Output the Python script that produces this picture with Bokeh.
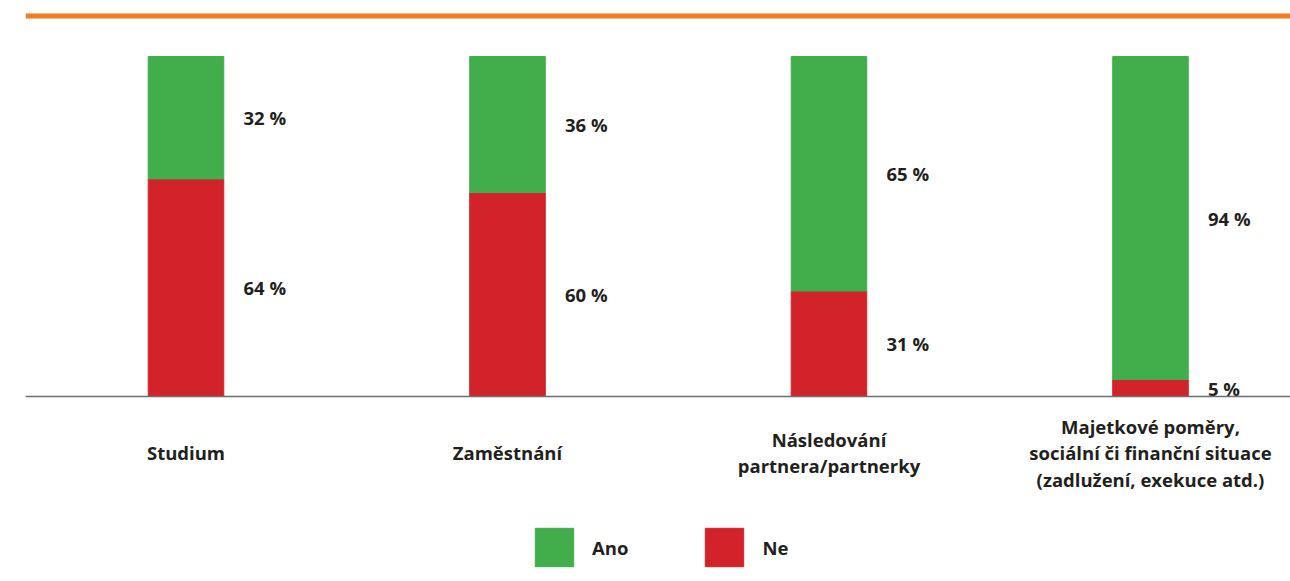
from bokeh.plotting import figure
from bokeh.models import Range1d, Span, Legend, LegendItem, ColumnDataSource
from bokeh.core.properties import value
from bokeh.embed import file_html
from bokeh.resources import INLINE

categories = ["Studium", "Zaměstnání", "Následování\npartnera/partnerky",
              "Majetkové poměry,\nsociální či finanční situace\n(zadlužení, exekuce atd.)"]
ano = [32, 36, 65, 94]
ne = [64, 60, 31, 5]
ano_labels = ["32 %", "36 %", "65 %", "94 %"]
ne_labels = ["64 %", "60 %", "31 %", "5 %"]

GREEN = "#41ae4b"
RED = "#d2232a"
ORANGE = "#f47b20"
TEXT = "#231f20"
FONT = "Open Sans"
FS = "18.5px"

xs = list(range(len(categories)))
src = ColumnDataSource(dict(
    x=xs, ne=ne, ano=ano, top=[100] * len(xs),
    ne_mid=[n / 2 for n in ne], ano_mid=[(n + 100) / 2 for n in ne],
    ano_lab=ano_labels, ne_lab=ne_labels, cat=categories,
    cat_y=[-16.5] * len(xs),
))

p = figure(width=1290, height=581, output_backend="svg", toolbar_location=None,
           x_range=Range1d(-0.4992, 3.4355), y_range=Range1d(-54.41, 116.47),
           min_border_left=25, min_border_right=0, min_border_top=0, min_border_bottom=0)
p.axis.visible = False
p.grid.visible = False
p.outline_line_color = None
p.background_fill_color = None
p.border_fill_color = "white"

bw = 0.235
r_ne = p.vbar(x="x", bottom=0, top="ne", width=bw, color=RED, source=src)
r_ano = p.vbar(x="x", bottom="ne", top="top", width=bw, color=GREEN, source=src)

p.add_layout(Span(location=0, dimension="width", line_color="#6d6e71", line_width=1.5))
p.add_layout(Span(location=111.9, dimension="width", line_color=ORANGE, line_width=5))

common = dict(text_font=value(FONT), text_font_style="bold", text_font_size=FS,
              text_color=TEXT, source=src)
p.text(x="x", y="ano_mid", text="ano_lab", x_offset=57.5, text_baseline="middle",
       text_align="left", **common)
p.text(x="x", y="ne_mid", text="ne_lab", x_offset=57.5, text_baseline="middle",
       text_align="left", **common)
p.text(x="x", y="cat_y", text="cat", text_baseline="middle", text_align="center",
       text_line_height=1.06, **common)

legend = Legend(items=[LegendItem(label="Ano", renderers=[r_ano]),
                       LegendItem(label="Ne", renderers=[r_ne])],
                orientation="horizontal", location=(505, 10),
                glyph_width=48, glyph_height=48, label_height=48,
                label_standoff=14, spacing=72, padding=0, margin=0,
                border_line_color=None, background_fill_alpha=0,
                label_text_font=FONT, label_text_font_style="bold",
                label_text_font_size=FS, label_text_color=TEXT,
                label_text_baseline="middle")
p.add_layout(legend, "center")

open("out.html", "w").write(file_html(p, INLINE))
